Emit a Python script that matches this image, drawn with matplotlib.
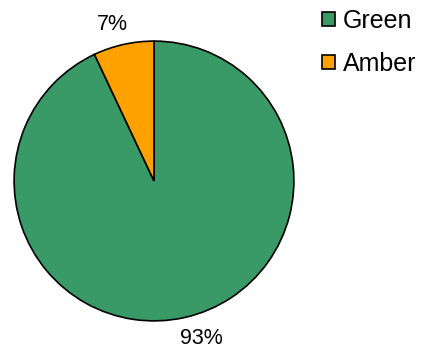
import numpy as np
import matplotlib.pyplot as plt

plt.rcParams['font.family'] = ['Liberation Sans', 'DejaVu Sans']

labels = ['Green', 'Amber']
shares = [93, 7]
colors = ['#399a67', '#ffa200']

fig = plt.figure(figsize=(4.31, 3.49), dpi=100)
W, H = 431, 349
ax = fig.add_axes([12 / W, 26 / H, 284 / W, 284 / H])

wedges, texts, autotexts = ax.pie(
    shares, colors=colors, startangle=90, counterclock=False,
    autopct='%d%%', pctdistance=1.19,
    wedgeprops=dict(edgecolor='black', linewidth=1.2),
    textprops=dict(fontsize=15.5),
)
ax.set_xlim(-1.015, 1.015)
ax.set_ylim(-1.015, 1.015)
ax.set_aspect('equal')

# percentage labels sit a little counter-clockwise of the slice middle
for w, t, shift, dist in zip(wedges, autotexts, [4.0, 2.2], [1.175, 1.16]):
    ang = np.deg2rad((w.theta1 + w.theta2) / 2 + shift)
    t.set_position((dist * np.cos(ang), dist * np.sin(ang)))

fig.legend(wedges, labels, loc='upper left', bbox_to_anchor=(322 / W, 1 - 9 / H),
           frameon=False, fontsize=18, handlelength=0.52, handleheight=0.52,
           handletextpad=0.32, labelspacing=0.75, borderpad=0, borderaxespad=0)

fig.savefig('out.png', dpi=100)
